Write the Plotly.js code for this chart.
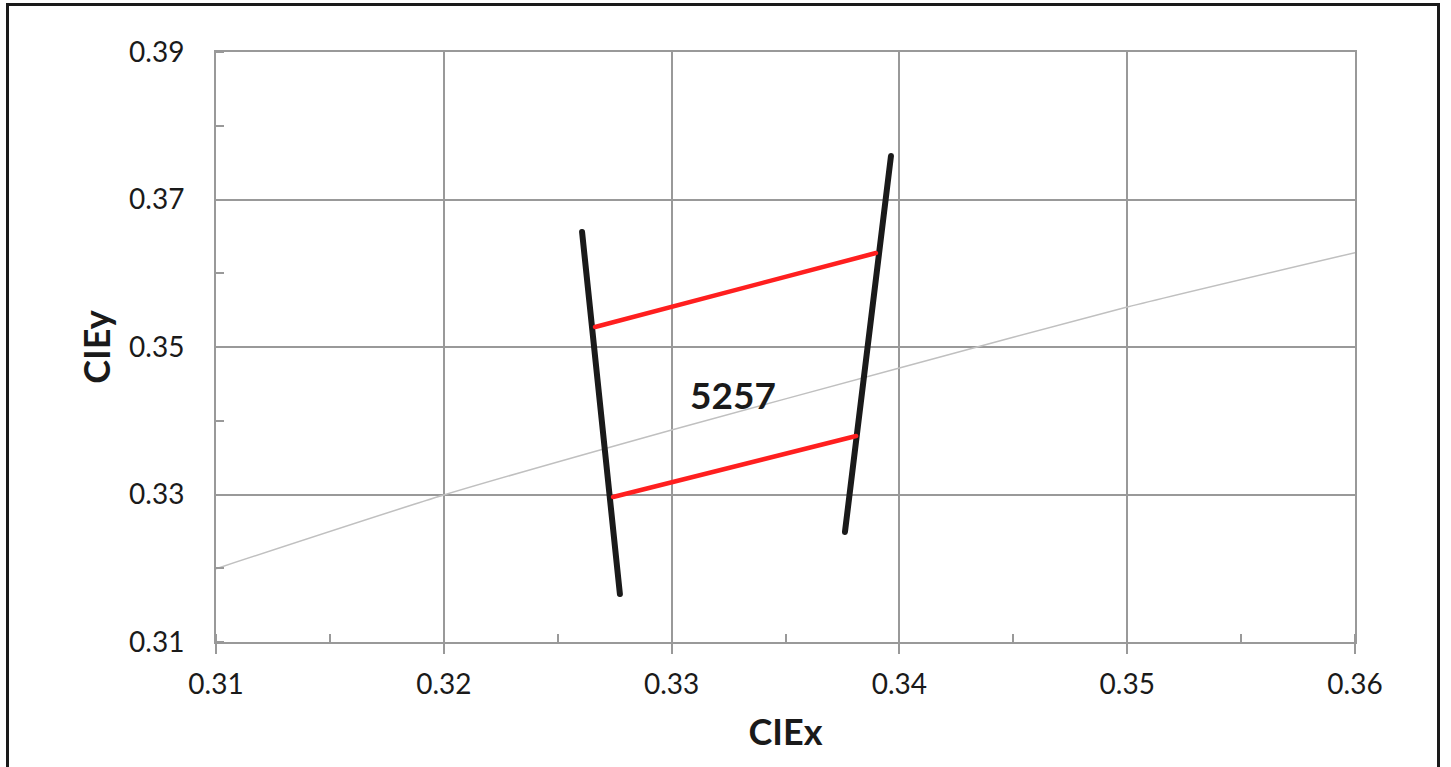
<!DOCTYPE html>
<html>
<head>
<meta charset="utf-8">
<script src="https://cdn.plot.ly/plotly-3.0.1.min.js"></script>
<style>
html,body{margin:0;padding:0;background:#fff;overflow:hidden;}
#wrap{position:relative;width:1451px;height:767px;}
#frame{position:absolute;left:6px;top:3px;width:1434px;height:800px;border:3px solid #1a1a1a;pointer-events:none;box-sizing:border-box;}
.scatterlayer path.js-line{stroke-linecap:round;}
</style>
</head>
<body>
<div id="wrap"><div id="chart" style="width:1451px;height:767px;"></div><div id="frame"></div></div>
<script>
// Reference locus (grey)
const refX = [0.31, 0.32, 0.33, 0.34, 0.35, 0.36];
const refY = [0.31994, 0.32993, 0.33875, 0.34715, 0.35542, 0.36279];
// Left isotherm (black)
const leftX = [0.32607, 0.32773];
const leftY = [0.36559, 0.31651];
// Right isotherm (black)
const rightX = [0.33963, 0.33761];
const rightY = [0.37590, 0.32492];
// Upper boundary (red)
const upperX = [0.32664, 0.33897];
const upperY = [0.35271, 0.36275];
// Lower boundary (red)
const lowerX = [0.32743, 0.33810];
const lowerY = [0.32966, 0.33793];
// Label
const labelText = "5257";
const labelPos = [0.33269, 0.34350];
const xTicks = [0.31, 0.32, 0.33, 0.34, 0.35, 0.36];
const yTicks = [0.31, 0.33, 0.35, 0.37, 0.39];

const F = "Lato, 'Open Sans', sans-serif";
const traces = [
  {x: refX, y: refY, mode: 'lines', line: {color: '#c0c0c0', width: 1.5, shape: 'spline', smoothing: 0.6}, hoverinfo: 'skip'},
  {x: leftX, y: leftY, mode: 'lines', line: {color: '#1a1a1a', width: 6}},
  {x: rightX, y: rightY, mode: 'lines', line: {color: '#1a1a1a', width: 6}},
  {x: upperX, y: upperY, mode: 'lines', line: {color: '#ff1f1f', width: 4.5}},
  {x: lowerX, y: lowerY, mode: 'lines', line: {color: '#ff1f1f', width: 4.5}}
];
const layout = {
  width: 1451, height: 767,
  margin: {l: 216, r: 96, t: 52, b: 125},
  showlegend: false,
  paper_bgcolor: '#fff', plot_bgcolor: '#fff',
  font: {family: F, color: '#1a1a1a', size: 28},
  xaxis: {
    range: [0.31, 0.36], tickvals: xTicks, ticktext: xTicks.map(v => v.toFixed(2)),
    showgrid: true, gridcolor: '#999', gridwidth: 2,
    showline: true, linecolor: '#999', linewidth: 2, mirror: true,
    ticks: 'outside', ticklen: 10, tickwidth: 2, tickcolor: '#999',
    ticklabelstandoff: 6,
    minor: {dtick: 0.005, tick0: 0.31, ticks: 'inside', ticklen: 8, tickwidth: 2, tickcolor: '#999', showgrid: false},
    zeroline: false,
    title: {text: 'CIEx', font: {family: F, size: 36, color: '#1a1a1a', weight: 'bold'}, standoff: 21}
  },
  yaxis: {
    range: [0.31, 0.39], tickvals: yTicks, ticktext: yTicks.map(v => v.toFixed(2)),
    showgrid: true, gridcolor: '#999', gridwidth: 2,
    showline: true, linecolor: '#999', linewidth: 2, mirror: true,
    ticks: '', ticklabelstandoff: 24,
    minor: {dtick: 0.01, tick0: 0.31, ticks: 'inside', ticklen: 8, tickwidth: 2, tickcolor: '#999', showgrid: false},
    zeroline: false,
    title: {text: 'CIEy', font: {family: F, size: 36, color: '#1a1a1a', weight: 'bold'}, standoff: 7}
  },
  annotations: [{
    x: labelPos[0], y: labelPos[1], text: labelText, showarrow: false,
    font: {family: F, size: 37, color: '#1a1a1a', weight: 'bold'}
  }]
};
Plotly.newPlot('chart', traces, layout, {displayModeBar: false, staticPlot: true});
</script>
</body>
</html>
